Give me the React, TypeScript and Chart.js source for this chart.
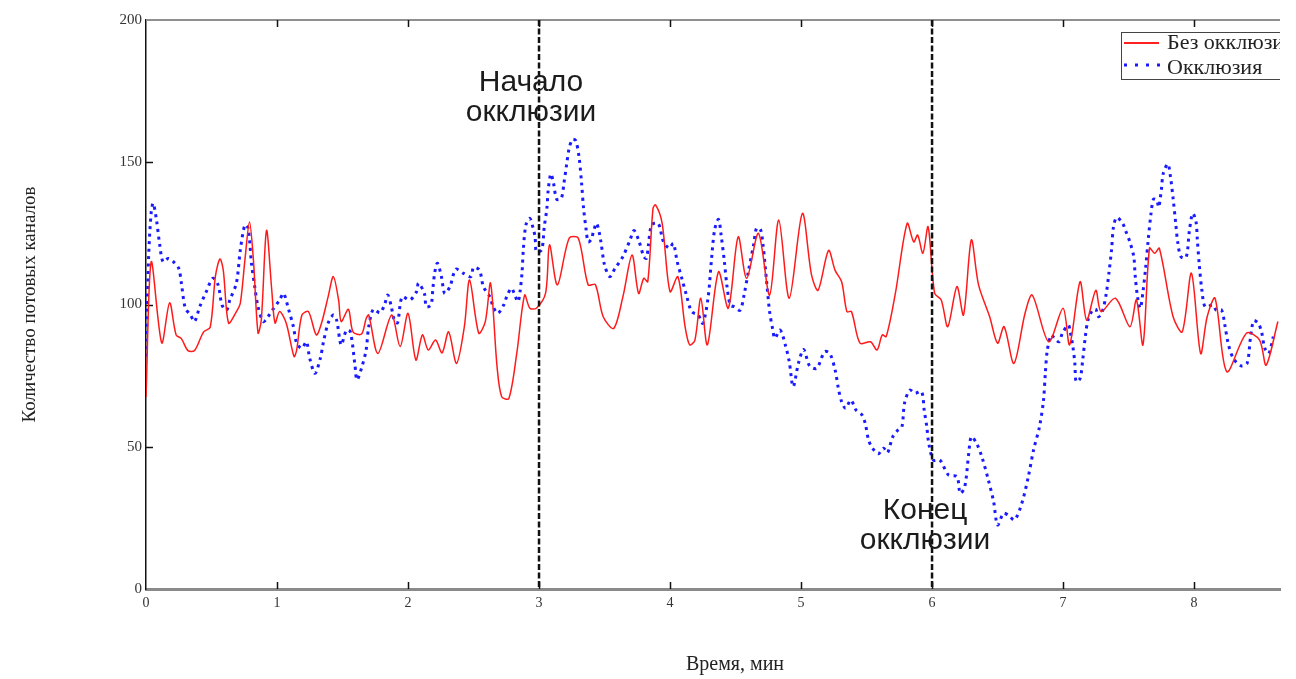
import React, { useEffect, useRef } from "react";
import { Chart, registerables } from "chart.js";

Chart.register(...registerables);

// ---- data ----
const redTimes = [
  0, 0.04, 0.12, 0.18, 0.23, 0.27, 0.32, 0.37, 0.44, 0.49, 0.53, 0.565, 0.59, 0.63, 0.69, 0.72, 0.755, 0.79, 0.82, 0.855,
  0.88, 0.92, 0.96, 0.985, 1.02, 1.07, 1.13, 1.15, 1.19, 1.24, 1.3, 1.34, 1.39, 1.43, 1.47, 1.49, 1.545, 1.58, 1.645, 1.68,
  1.7, 1.77, 1.875, 1.94, 2.0, 2.06, 2.11, 2.155, 2.21, 2.26, 2.31, 2.37, 2.43, 2.47, 2.54, 2.59, 2.63, 2.68, 2.715, 2.77,
  2.83, 2.89, 2.93, 2.98, 3.05, 3.08, 3.14, 3.23, 3.3, 3.375, 3.43, 3.49, 3.57, 3.64, 3.71, 3.76, 3.8, 3.83, 3.87, 3.89,
  3.94, 4.0, 4.06, 4.115, 4.15, 4.19, 4.235, 4.285, 4.37, 4.445, 4.52, 4.585, 4.675, 4.76, 4.83, 4.91, 5.01, 5.08, 5.13, 5.21,
  5.26, 5.31, 5.35, 5.385, 5.45, 5.53, 5.58, 5.62, 5.65, 5.72, 5.81, 5.86, 5.89, 5.93, 5.97, 6.02, 6.07, 6.12, 6.19, 6.24,
  6.3, 6.355, 6.44, 6.5, 6.55, 6.625, 6.71, 6.765, 6.89, 7.0, 7.05, 7.13, 7.18, 7.25, 7.29, 7.4, 7.51, 7.56, 7.61, 7.66,
  7.7, 7.735, 7.84, 7.91, 7.98, 8.05, 8.1, 8.16, 8.25, 8.4, 8.5, 8.55, 8.64,
];
const redValues = [
  67.5, 115, 86.5, 100.6, 89.3, 88, 83.8, 83.8, 90.4, 92, 110, 116, 112, 93.5, 97.5, 100.5, 115.6, 129, 115.6, 90,
  94.5, 126, 105, 93.5, 97.5, 93.5, 81.7, 84, 96.3, 97.5, 89.3, 93.5, 102.7, 109.8, 101.6, 94, 98.3, 90.4, 89.6, 95,
  96.3, 82.8, 96.3, 85.2, 96.9, 80.5, 89.3, 84, 87.5, 83, 90.4, 79.3, 92.2, 108.6, 89.9, 94, 107.5, 78, 67.6, 67,
  82.8, 103.3, 98.7, 98.7, 104, 121, 106.9, 123.3, 123.3, 106.9, 107, 95.7, 91.6, 102.7, 117.4, 103.9, 109.2, 108, 133.8, 135,
  128.5, 104.5, 109.8, 92.2, 85.8, 87.5, 102.2, 85.8, 111.5, 98.7, 123.8, 109.2, 125, 103.3, 129.7, 102.2, 132, 110.4, 105, 119,
  112, 108, 97.5, 97.5, 86.4, 86.9, 84, 89.3, 88.7, 103.9, 128.5, 122, 124.4, 118, 127.3, 103.9, 101.6, 92.2, 106.3, 96.3,
  122.7, 106.9, 95.7, 86.4, 92.2, 79.3, 96.9, 103.3, 86.9, 98.7, 85.8, 108, 94.5, 105, 97.5, 102.2, 92.2, 101.6, 85.8, 119.8,
  118, 119.8, 95.7, 90.4, 111, 82.8, 95.7, 102.2, 76.4, 89.9, 87.5, 78.7, 94,
];

const blueTimes = [
  0, 0.02, 0.04, 0.055, 0.08, 0.105, 0.13, 0.17, 0.21, 0.25, 0.27, 0.3, 0.34, 0.37, 0.41, 0.46, 0.51, 0.55, 0.58, 0.615,
  0.64, 0.69, 0.72, 0.755, 0.78, 0.805, 0.83, 0.855, 0.895, 0.93, 0.965, 1.02, 1.05, 1.09, 1.125, 1.15, 1.19, 1.225, 1.25, 1.29,
  1.33, 1.355, 1.39, 1.43, 1.455, 1.49, 1.53, 1.56, 1.595, 1.61, 1.645, 1.68, 1.7, 1.735, 1.785, 1.82, 1.845, 1.87, 1.895, 1.92,
  1.955, 2.015, 2.065, 2.08, 2.125, 2.14, 2.175, 2.19, 2.205, 2.225, 2.255, 2.28, 2.32, 2.365, 2.42, 2.48, 2.5, 2.545, 2.575, 2.625,
  2.65, 2.685, 2.73, 2.755, 2.79, 2.82, 2.84, 2.855, 2.87, 2.88, 2.9, 2.93, 2.955, 2.97, 2.98, 3.02, 3.04, 3.06, 3.07, 3.09,
  3.11, 3.135, 3.17, 3.19, 3.21, 3.23, 3.255, 3.28, 3.305, 3.325, 3.34, 3.36, 3.375, 3.4, 3.415, 3.44, 3.47, 3.5, 3.54, 3.58,
  3.64, 3.695, 3.725, 3.76, 3.8, 3.82, 3.835, 3.86, 3.91, 3.95, 3.995, 4.025, 4.055, 4.09, 4.125, 4.165, 4.215, 4.25, 4.29, 4.315,
  4.34, 4.37, 4.39, 4.415, 4.435, 4.46, 4.49, 4.535, 4.565, 4.6, 4.64, 4.66, 4.69, 4.71, 4.735, 4.76, 4.785, 4.8, 4.84, 4.88,
  4.91, 4.94, 4.98, 5.02, 5.065, 5.12, 5.18, 5.22, 5.26, 5.285, 5.31, 5.34, 5.38, 5.42, 5.465, 5.49, 5.515, 5.545, 5.59, 5.63,
  5.66, 5.7, 5.74, 5.77, 5.79, 5.83, 5.87, 5.92, 5.94, 5.96, 5.975, 6.01, 6.06, 6.125, 6.19, 6.215, 6.25, 6.28, 6.3, 6.34,
  6.38, 6.43, 6.47, 6.5, 6.545, 6.58, 6.63, 6.685, 6.735, 6.775, 6.82, 6.85, 6.865, 6.88, 6.91, 6.935, 6.97, 6.995, 7.04, 7.055,
  7.075, 7.09, 7.1, 7.13, 7.15, 7.17, 7.19, 7.225, 7.25, 7.27, 7.3, 7.33, 7.35, 7.37, 7.385, 7.41, 7.455, 7.48, 7.51, 7.54,
  7.55, 7.57, 7.59, 7.61, 7.63, 7.65, 7.67, 7.69, 7.715, 7.73, 7.75, 7.765, 7.8, 7.82, 7.84, 7.86, 7.875, 7.9, 7.94, 7.965,
  7.99, 8.015, 8.025, 8.04, 8.06, 8.085, 8.145, 8.17, 8.21, 8.235, 8.26, 8.3, 8.36, 8.405, 8.43, 8.455, 8.49, 8.515, 8.54, 8.57,
  8.605,
];
const blueValues = [
  81.7, 116.8, 132.6, 135.6, 129.7, 120.9, 115, 116.2, 115, 112.7, 107.5, 98.7, 96.3, 94, 99.2, 104.5, 109.2, 106.9, 99.8, 98,
  101.6, 107.5, 119.2, 128, 126.8, 114.5, 106.3, 99.2, 94, 95.7, 98, 101.6, 103.9, 98, 92.2, 86.4, 84.6, 86.9, 81, 75.8,
  81, 86.9, 93.4, 96.3, 94.5, 85.8, 91, 90.4, 78.7, 73.5, 77.6, 84, 92.2, 98.3, 97.1, 99.8, 103.3, 99.8, 94.5, 93.6,
  102.7, 101.6, 104.5, 107.5, 103.9, 99.2, 99.8, 105.7, 111.5, 114.5, 109.8, 103.9, 106.3, 112.4, 111, 109.8, 113, 112.1, 106.3, 102.7,
  99.2, 96.9, 99.8, 103, 105.7, 102.7, 101, 104.5, 111, 119.2, 128, 130.3, 126.8, 123.8, 118.6, 119.2, 127.3, 133.8, 140.2, 145.9,
  142.8, 137, 137.3, 142.6, 149, 154.9, 158, 157.6, 152, 142.6, 133.8, 126.2, 122, 123, 125.6, 128.5, 122.7, 113.9, 109.8, 112.7,
  116.8, 122.7, 126, 122.7, 116.8, 116.2, 120.9, 128, 128.5, 122, 119.8, 121.5, 115, 109.2, 103.3, 97.5, 96.3, 93.4, 102.2, 115,
  126.2, 129.9, 124.4, 115, 106.3, 99.8, 99.2, 98, 103.3, 112.1, 121.5, 126.8, 126.4, 120.9, 109.2, 97.5, 91, 88.1, 91, 85.8,
  79.9, 71.1, 79.3, 84.2, 78.4, 77.6, 83.4, 82.8, 77, 70.5, 65.8, 63.5, 66.4, 62.9, 61.2, 58.2, 52.4, 49.5, 47.5, 49.5,
  47.9, 53.5, 55.9, 57, 65.3, 69.9, 68.8, 69.4, 62.9, 57, 51.2, 45.3, 45.3, 40.1, 39.5, 33.6, 36, 47.7, 53.5, 51.2,
  46.5, 38.3, 30.7, 22.5, 26.6, 26, 24.3, 30.1, 39.5, 48.9, 57, 66, 76, 84, 89.3, 88.1, 86.9, 89.9, 92.8, 90.4,
  85.2, 79.3, 72.9, 74, 80.5, 88.7, 94.5, 98, 98.3, 95.7, 97.5, 103.9, 111, 119.2, 127.3, 130.6, 128.5, 125.6, 122, 116.8,
  110.4, 102.2, 98.7, 104.5, 112.7, 122.7, 131.5, 137, 136.7, 134.2, 140.2, 146.1, 149.4, 144.9, 137.3, 128.5, 122, 116.8, 116.6, 126.2,
  132, 129.1, 122.7, 113.9, 105, 99.2, 99.8, 98, 98, 92.8, 86.4, 81, 78.4, 79.3, 88.1, 94.3, 93.4, 90.4, 84.6, 82.8,
  88.7,
];

const seriesNames = ["Без окклюзии", "Окклюзия"];
const xTickValues = [0, 1, 2, 3, 4, 5, 6, 7, 8];
const yTickValues = [0, 50, 100, 150, 200];
const markerTimes = [3, 6];
const markerLabels = [
  ["Начало", "окклюзии"],
  ["Конец", "окклюзии"],
];
const xAxisTitle = "Время, мин";
const yAxisTitle = "Количество потовых каналов";

const X_MAX = 8.656;
const CLIP_RIGHT = 1280;
const SERIF = '"Liberation Serif", "Times New Roman", serif';

function toPoints(ts: number[], vs: number[]) {
  return ts.map((t, i) => ({ x: t, y: vs[i] }));
}

const decorPlugin = {
  id: "decor",
  beforeDatasetsDraw(chart: any) {
    const { ctx, chartArea, scales } = chart;
    const xs = scales.x;
    const ys = scales.y;
    ctx.save();
    // top frame line
    ctx.strokeStyle = "#8f8f8f";
    ctx.lineWidth = 2;
    ctx.beginPath();
    ctx.moveTo(chartArea.left, chartArea.top);
    ctx.lineTo(CLIP_RIGHT, chartArea.top);
    ctx.stroke();
    // inward ticks
    ctx.strokeStyle = "#111";
    ctx.lineWidth = 1.5;
    xTickValues.forEach((v) => {
      if (v === 0) return;
      const px = Math.round(xs.getPixelForValue(v)) + 0.5;
      ctx.beginPath();
      ctx.moveTo(px, chartArea.bottom);
      ctx.lineTo(px, chartArea.bottom - 7);
      ctx.moveTo(px, chartArea.top);
      ctx.lineTo(px, chartArea.top + 7);
      ctx.stroke();
    });
    yTickValues.forEach((v) => {
      if (v === 0 || v === 200) return;
      const py = Math.round(ys.getPixelForValue(v)) + 0.5;
      ctx.beginPath();
      ctx.moveTo(chartArea.left, py);
      ctx.lineTo(chartArea.left + 7, py);
      ctx.stroke();
    });
    ctx.restore();
  },
  afterDatasetsDraw(chart: any) {
    const { ctx, chartArea, scales } = chart;
    const xs = scales.x;
    ctx.save();
    // vertical dashed marker lines
    ctx.strokeStyle = "#111";
    ctx.lineWidth = 2.5;
    ctx.setLineDash([6, 2.5]);
    markerTimes.forEach((t) => {
      const px = xs.getPixelForValue(t);
      ctx.beginPath();
      ctx.moveTo(px, chartArea.top);
      ctx.lineTo(px, chartArea.bottom);
      ctx.stroke();
    });
    ctx.setLineDash([]);

    // annotation labels
    ctx.fillStyle = "#1c1c1c";
    ctx.font = '30px "Liberation Sans", Arial, sans-serif';
    ctx.textAlign = "center";
    ctx.textBaseline = "middle";
    const pos = [
      { x: xs.getPixelForValue(markerTimes[0]) - 8, y: 83 },
      { x: xs.getPixelForValue(markerTimes[1]) - 7, y: 511 },
    ];
    markerLabels.forEach((lines, i) => {
      lines.forEach((ln, j) => ctx.fillText(ln, pos[i].x, pos[i].y + j * 30));
    });

    // x-axis title
    ctx.font = "20px " + SERIF;
    ctx.fillStyle = "#222";
    ctx.fillText(xAxisTitle, 735, 665);

    // legend (clipped at right edge like the reference)
    ctx.beginPath();
    ctx.rect(0, 0, CLIP_RIGHT, 679);
    ctx.clip();
    ctx.fillStyle = "#fff";
    ctx.fillRect(1121, 32, 200, 47);
    ctx.strokeStyle = "#444";
    ctx.lineWidth = 1;
    ctx.strokeRect(1121.5, 32.5, 200, 47);
    ctx.strokeStyle = "#ff2020";
    ctx.lineWidth = 2;
    ctx.beginPath();
    ctx.moveTo(1124, 43);
    ctx.lineTo(1159, 43);
    ctx.stroke();
    ctx.strokeStyle = "#1a1aff";
    ctx.lineWidth = 3;
    ctx.setLineDash([3, 8]);
    ctx.beginPath();
    ctx.moveTo(1124, 65);
    ctx.lineTo(1164, 65);
    ctx.stroke();
    ctx.setLineDash([]);
    ctx.fillStyle = "#222";
    ctx.font = "22px " + SERIF;
    ctx.textAlign = "left";
    ctx.textBaseline = "alphabetic";
    ctx.fillText(seriesNames[0], 1167, 49);
    ctx.fillText(seriesNames[1], 1167, 74);
    ctx.restore();
  },
};

export default function App() {
  const canvasRef = useRef<HTMLCanvasElement | null>(null);

  useEffect(() => {
    const canvas = canvasRef.current;
    if (!canvas) return;
    const chart = new Chart(canvas, {
      type: "line",
      data: {
        datasets: [
          {
            label: seriesNames[0],
            data: toPoints(redTimes, redValues),
            borderColor: "#ff1a1a",
            borderWidth: 1.5,
            pointRadius: 0,
            tension: 0.3,
            fill: false,
          },
          {
            label: seriesNames[1],
            data: toPoints(blueTimes, blueValues),
            borderColor: "#1a1aff",
            borderWidth: 3,
            borderDash: [3, 4.5],
            pointRadius: 0,
            tension: 0.3,
            fill: false,
          },
        ],
      },
      options: {
        animation: false,
        responsive: false,
        maintainAspectRatio: false,
        parsing: false as any,
        normalized: true,
        layout: { padding: { top: 20, right: 1296 - CLIP_RIGHT, left: 0, bottom: 0 } },
        plugins: {
          legend: { display: false },
          tooltip: { enabled: false },
        },
        scales: {
          x: {
            type: "linear",
            min: 0,
            max: X_MAX,
            afterBuildTicks: (scale: any) => {
              scale.ticks = xTickValues.map((v) => ({ value: v }));
            },
            afterFit: (scale: any) => {
              scale.height = 90;
            },
            ticks: {
              autoSkip: false,
              maxRotation: 0,
              padding: 6,
              color: "#333",
              font: { family: SERIF, size: 14 },
              callback: (v: any) => String(v),
            },
            grid: { display: false, drawTicks: false },
            border: { display: true, color: "#8a8a8a", width: 3 },
          },
          y: {
            type: "linear",
            min: 0,
            max: 200,
            afterBuildTicks: (scale: any) => {
              scale.ticks = yTickValues.map((v) => ({ value: v }));
            },
            afterFit: (scale: any) => {
              scale.width = 146;
            },
            ticks: {
              padding: 4,
              color: "#333",
              font: { family: SERIF, size: 15 },
              callback: (v: any) => String(v),
            },
            grid: { display: false, drawTicks: false },
            border: { display: true, color: "#111", width: 1.5 },
            title: {
              display: true,
              text: yAxisTitle,
              color: "#222",
              font: { family: SERIF, size: 19 },
              padding: { top: 19, bottom: 0 },
            },
          },
        },
      },
      plugins: [decorPlugin],
    });
    return () => chart.destroy();
  }, []);

  return (
    <div style={{ position: "absolute", left: 0, top: 0, width: 1296, height: 679, background: "#fff" }}>
      <canvas ref={canvasRef} width={1296} height={679} style={{ display: "block", width: 1296, height: 679 }} />
    </div>
  );
}
